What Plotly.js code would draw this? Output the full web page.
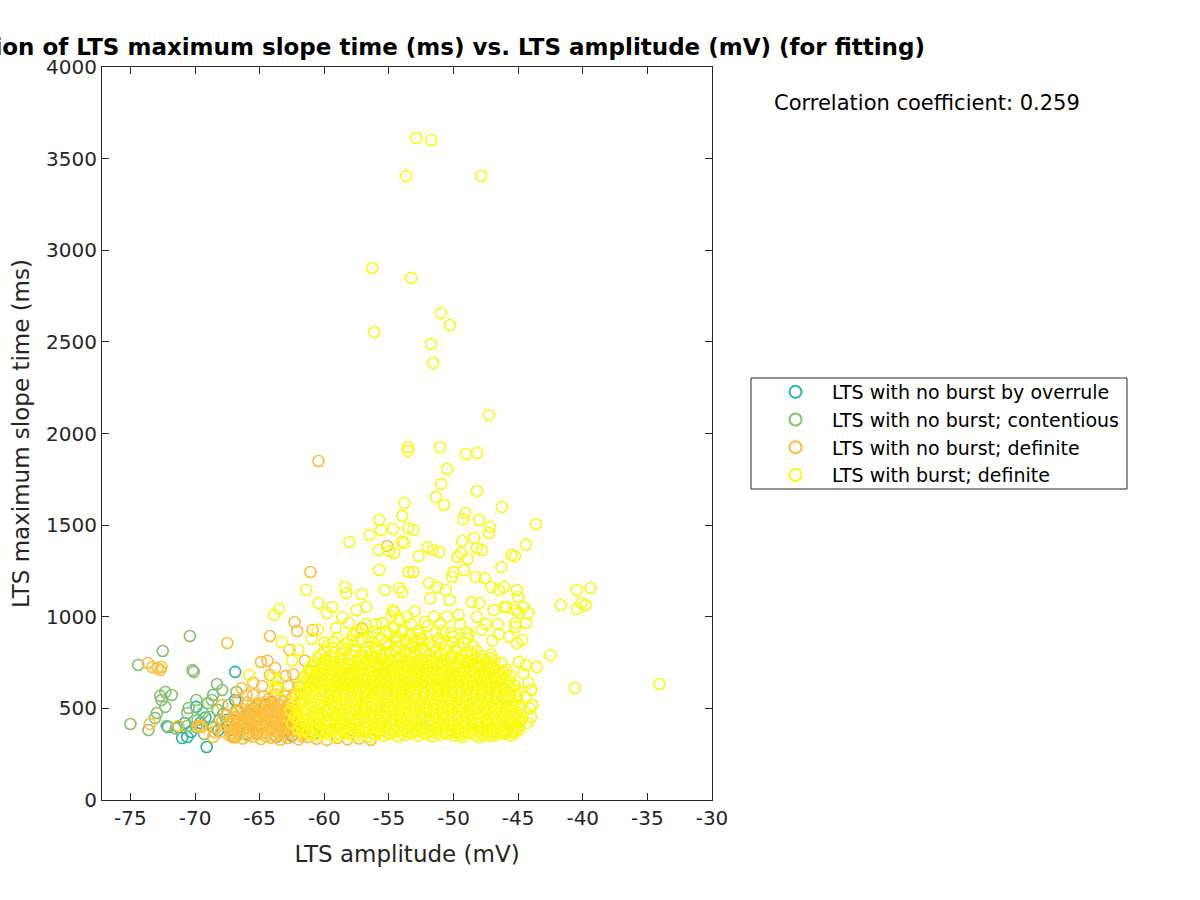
<!DOCTYPE html>
<html>
<head>
<meta charset="utf-8">
<script src="https://cdn.plot.ly/plotly-3.0.1.min.js"></script>
<style>html,body{margin:0;padding:0;background:#fff;}#chart{width:1200px;height:900px;}</style>
</head>
<body>
<div id="chart"></div>
<script>
// ---- Data: [LTS amplitude (mV), LTS maximum slope time (ms)] ----
const seriesNames = ["LTS with no burst by overrule", "LTS with no burst; contentious", "LTS with no burst; definite", "LTS with burst; definite"];
const seriesColors = ["rgb(38,181,160)", "rgb(135,193,109)", "rgb(254,190,58)", "rgb(249,250,16)"];
const xTicks = [-75, -70, -65, -60, -55, -50, -45, -40, -35, -30];
const yTicks = [0, 500, 1000, 1500, 2000, 2500, 3000, 3500, 4000];
const corrText = "Correlation coefficient: 0.259";

const overrulePts = [
[-66.9,699],[-71.0,338],[-70.6,344],[-70.3,371],[-69.1,289],[-72.1,398],[-71.3,398],[-69.6,420],[-69.9,508],
[-68.6,398],[-66.9,546],[-67.5,398],[-67.55,437],[-66.3,420],[-70.8,420],[-68.2,380],[-65.8,470],[-65.3,400],
[-64.6,520],[-64.0,430],[-63.2,380],[-62.5,350],[-66.0,360],[-67.8,470],[-69.2,450]
];

const contentiousPts = [
[-70.4,895],[-72.5,813],[-74.4,737],[-70.2,709],[-70.1,699],[-75.0,415],[-73.6,382],[-72.95,475],[-73.1,447],
[-72.6,546],[-72.3,589],[-72.7,568],[-71.8,573],[-72.3,508],[-72.2,404],[-70.6,404],[-70.5,502],[-70.6,475],
[-69.9,546],[-69.8,437],[-69.9,398],[-69.4,475],[-69.0,529],[-68.9,453],[-68.6,573],[-68.3,633],[-68.7,546],
[-68.25,491],[-68.1,437],[-66.8,589],[-66.8,491],[-67.1,382],[-66.55,420],[-66.9,344],[-65.8,437],[-65.2,366],
[-64.5,366],[-63.7,344],[-62.9,382],[-64.1,535],[-65.5,500],[-66.2,455],[-67.4,520],[-63.0,420],[-62.2,400],
[-61.5,380],[-64.8,410],[-66.0,395],[-69.3,360],[-71.5,390],[-60.8,360],[-59.5,380],[-67.9,600]
];

const noBurstPts = [
[-73.65,748],[-73.3,726],[-72.9,720],[-72.6,726],[-72.7,709],[-67.5,857],[-73.5,415],[-71.3,404],[-69.8,404],
[-69.5,398],[-68.5,371],[-68.6,344],[-67.9,518],[-67.1,344],[-64.9,753],[-64.2,895],[-66.0,573],[-62.3,971],
[-62.1,922],[-60.45,1850],[-61.07,1244],[-55.13,1386],[-60.9,928],[-57.1,938],[-64.4,760],[-61.5,760],[-62.7,820],
[-61.0,700],[-60.5,640],[-63.8,720],[-65.5,640],[-66.4,610],[-67.0,470],
[-67.0,342],[-66.3,336],[-65.5,345],[-64.9,333],[-64.1,340],[-63.4,329],[-62.8,338],[-62.0,331],[-61.3,343],
[-60.6,334],[-59.8,328],[-59.0,339],[-58.2,331],[-57.3,336],[-56.4,329],
[-68.0,372],[-67.2,366],[-66.6,376],[-65.8,369],[-65.1,378],[-64.5,364],[-63.7,373],[-63.1,367],[-62.4,377],
[-61.7,365],[-61.0,372],
[-69.6,402],[-68.4,396],[-67.6,405],[-66.9,398],[-66.2,407],[-65.6,395],[-64.8,404],[-64.2,397],[-63.5,406],
[-62.9,394],[-62.2,403],[-61.6,398],
[-67.9,432],[-67.3,426],[-66.5,435],[-65.9,428],[-65.3,437],[-64.6,425],[-64.0,433],[-63.3,427],[-62.6,436],
[-62.0,429],
[-67.6,462],[-66.8,456],[-66.1,466],[-65.4,459],[-64.8,468],[-64.1,455],[-63.5,463],[-62.8,457],[-62.2,466],
[-66.4,497],[-65.7,490],[-65.0,499],[-64.3,492],[-63.7,501],[-63.0,489],[-62.4,496],
[-66.0,532],[-65.2,526],[-64.6,535],[-63.9,528],[-63.2,537],[-62.6,525],
[-65.5,572],[-64.7,566],[-63.8,575],[-63.0,568],[-62.3,577],
[-64.8,622],[-63.6,615],[-62.8,625],[-62.0,618],
[-64.2,682],[-63.0,676],[-62.4,686],
[-67.3,352],[-66.6,356],[-65.9,350],[-65.2,358],[-64.5,348],[-63.8,355],[-63.1,350],[-62.4,357],[-61.7,349],
[-66.9,386],[-66.2,390],[-65.5,383],[-64.8,388],[-64.1,382],[-63.4,391],[-62.7,385],
[-67.3,417],[-66.6,421],[-65.9,414],[-65.2,419],[-64.5,413],[-63.8,420],[-63.1,415],[-62.4,421],
[-67.0,448],[-66.3,444],[-65.7,451],[-65.0,446],[-64.4,452],[-63.7,445],[-63.1,450],
[-66.8,480],[-66.0,476],[-65.3,483],[-64.6,478],[-64.0,484],[-63.3,477],[-62.7,482],
[-65.6,512],[-64.9,516],[-64.2,510],[-63.5,515],[-62.9,509],
[-66.7,545],[-64.3,552],[-63.4,548],[-62.5,555]
];

const burstCorePts = [
[-61.0,358],[-60.4,352],[-59.9,360],[-59.3,349],[-58.8,356],[-58.2,362],[-57.7,350],[-57.1,357],[-56.5,346],[-56.0,359],
[-55.4,352],[-54.9,361],[-54.3,348],[-53.8,355],[-53.2,363],[-52.7,350],[-52.1,358],[-51.6,347],[-51.0,356],[-50.5,362],
[-49.9,351],[-49.4,358],[-48.8,365],[-48.3,353],[-47.7,360],[-47.2,349],[-46.6,357],[-46.1,364],[-45.6,352],
[-62.0,388],[-61.5,380],[-60.9,392],[-60.3,384],[-59.6,378],[-59.0,390],[-58.5,383],[-57.9,391],[-57.4,377],[-56.8,386],
[-56.2,393],[-55.7,381],[-55.1,389],[-54.6,376],[-54.0,385],[-53.5,394],[-52.9,382],[-52.4,390],[-51.8,379],[-51.3,387],
[-50.7,395],[-50.2,381],[-49.6,389],[-49.1,377],[-48.5,386],[-48.0,393],[-47.4,380],[-46.9,388],[-46.3,376],[-45.8,385],[-45.2,392],
[-62.5,418],[-61.8,412],[-61.2,420],[-60.6,409],[-60.1,417],[-59.5,424],[-58.9,411],[-58.4,419],[-57.8,408],[-57.3,416],
[-56.7,423],[-56.1,410],[-55.6,418],[-55.0,426],[-54.5,413],[-53.9,421],[-53.3,408],[-52.8,416],[-52.2,424],[-51.7,411],
[-51.1,419],[-50.6,407],[-50.0,415],[-49.4,423],[-48.9,410],[-48.3,418],[-47.8,426],[-47.2,412],[-46.6,420],[-46.1,409],
[-45.5,417],[-44.9,424],
[-62.3,452],[-61.6,445],[-61.0,456],[-60.4,448],[-59.8,441],[-59.2,453],[-58.7,446],[-58.1,458],[-57.5,444],[-57.0,451],
[-56.4,459],[-55.8,447],[-55.3,455],[-54.7,442],[-54.1,450],[-53.6,458],[-53.0,445],[-52.5,453],[-51.9,440],[-51.3,449],
[-50.8,457],[-50.2,444],[-49.7,452],[-49.1,460],[-48.6,447],[-48.0,455],[-47.4,441],[-46.9,449],[-46.3,457],[-45.8,444],
[-45.2,452],[-44.7,446],
[-62.6,488],[-62.0,481],[-61.4,492],[-60.8,484],[-60.2,477],[-59.7,489],[-59.1,482],[-58.5,494],[-58.0,480],[-57.4,487],
[-56.8,495],[-56.3,483],[-55.7,490],[-55.2,478],[-54.6,486],[-54.0,494],[-53.5,481],[-52.9,489],[-52.3,476],[-51.8,485],
[-51.2,493],[-50.7,480],[-50.1,488],[-49.5,496],[-49.0,483],[-48.4,491],[-47.9,478],[-47.3,486],[-46.7,494],[-46.2,481],
[-45.6,489],[-45.1,477],
[-62.4,523],[-61.7,516],[-61.1,527],[-60.5,519],[-60.0,512],[-59.4,524],[-58.8,517],[-58.3,529],[-57.7,514],[-57.1,522],
[-56.6,530],[-56.0,518],[-55.4,525],[-54.9,513],[-54.3,521],[-53.7,529],[-53.2,516],[-52.6,524],[-52.1,511],[-51.5,520],
[-50.9,528],[-50.4,515],[-49.8,523],[-49.2,531],[-48.7,518],[-48.1,526],[-47.6,513],[-47.0,521],[-46.4,529],[-45.9,516],
[-45.3,524],[-44.8,518],
[-62.2,558],[-61.5,551],[-60.9,562],[-60.3,554],[-59.7,547],[-59.2,559],[-58.6,552],[-58.0,564],[-57.5,549],[-56.9,557],
[-56.3,565],[-55.8,553],[-55.2,560],[-54.7,548],[-54.1,556],[-53.5,564],[-53.0,551],[-52.4,559],[-51.8,546],[-51.3,555],
[-50.7,563],[-50.2,550],[-49.6,558],[-49.0,566],[-48.5,553],[-47.9,561],[-47.4,548],[-46.8,556],[-46.2,564],[-45.7,551],[-45.1,559],
[-62.0,595],[-61.4,588],[-60.8,599],[-60.2,591],[-59.6,584],[-59.1,596],[-58.5,589],[-57.9,601],[-57.4,586],[-56.8,594],
[-56.2,602],[-55.7,590],[-55.1,597],[-54.6,585],[-54.0,593],[-53.4,601],[-52.9,588],[-52.3,596],[-51.7,583],[-51.2,592],
[-50.6,600],[-50.1,587],[-49.5,595],[-48.9,603],[-48.4,590],[-47.8,598],[-47.3,585],[-46.7,593],[-46.1,601],[-45.6,588],[-45.0,596],
[-61.7,633],[-61.1,626],[-60.5,637],[-59.9,629],[-59.3,622],[-58.8,634],[-58.2,627],[-57.6,639],[-57.1,624],[-56.5,632],
[-55.9,640],[-55.4,628],[-54.8,635],[-54.3,623],[-53.7,631],[-53.1,639],[-52.6,626],[-52.0,634],[-51.4,621],[-50.9,630],
[-50.3,638],[-49.8,625],[-49.2,633],[-48.6,641],[-48.1,628],[-47.5,636],[-47.0,623],[-46.4,631],[-45.8,639],[-45.3,626],
[-61.5,673],[-60.9,666],[-60.3,677],[-59.7,669],[-59.1,662],[-58.6,674],[-58.0,667],[-57.4,679],[-56.9,664],[-56.3,672],
[-55.7,680],[-55.2,668],[-54.6,675],[-54.1,663],[-53.5,671],[-52.9,679],[-52.4,666],[-51.8,674],[-51.2,661],[-50.7,670],
[-50.1,678],[-49.6,665],[-49.0,673],[-48.4,681],[-47.9,668],[-47.3,676],[-46.8,663],[-46.2,671],[-45.6,679],
[-61.2,713],[-60.6,706],[-60.0,717],[-59.4,709],[-58.8,702],[-58.3,714],[-57.7,707],[-57.1,719],[-56.6,704],[-56.0,712],
[-55.4,720],[-54.9,708],[-54.3,715],[-53.8,703],[-53.2,711],[-52.6,719],[-52.1,706],[-51.5,714],[-50.9,701],[-50.4,710],
[-49.8,718],[-49.3,705],[-48.7,713],[-48.1,721],[-47.6,708],[-47.0,716],[-46.5,703],[-45.9,711],
[-60.8,753],[-60.1,746],[-59.5,757],[-58.9,749],[-58.2,742],[-57.6,754],[-57.0,747],[-56.4,759],[-55.8,744],[-55.2,752],
[-54.6,760],[-54.0,748],[-53.4,755],[-52.8,743],[-52.2,751],[-51.6,759],[-51.0,746],[-50.4,754],[-49.8,741],[-49.2,750],
[-48.6,758],[-48.0,745],[-47.4,753],[-46.8,761],[-46.3,748]
];

const burstFillPts = [
[-61.7,371],[-61.2,366],[-60.6,374],[-60.1,368],[-59.5,375],[-59.0,365],[-58.4,372],[-57.9,367],[-57.3,376],[-56.8,369],
[-56.2,364],[-55.7,373],[-55.1,367],[-54.6,375],[-54.0,366],[-53.5,371],[-52.9,377],[-52.4,368],[-51.8,373],[-51.3,365],
[-50.7,372],[-50.2,378],[-49.6,367],[-49.1,374],[-48.5,369],[-48.0,376],[-47.4,365],[-46.9,372],[-46.3,368],[-45.8,375],[-45.3,366],
[-62.0,437],[-61.4,432],[-60.8,440],[-60.3,434],[-59.7,429],[-59.1,438],[-58.6,431],[-58.0,440],[-57.4,433],[-56.9,428],
[-56.3,437],[-55.8,431],[-55.2,439],[-54.7,434],[-54.1,429],[-53.6,437],[-53.0,432],[-52.5,440],[-51.9,434],[-51.4,428],
[-50.8,436],[-50.3,431],[-49.7,439],[-49.2,433],[-48.6,428],[-48.1,437],[-47.5,432],[-47.0,440],[-46.4,434],[-45.9,429],
[-45.3,437],[-44.8,432],
[-62.1,505],[-61.5,500],[-60.9,508],[-60.4,502],[-59.8,497],[-59.2,506],[-58.7,499],[-58.1,508],[-57.6,501],[-57.0,496],
[-56.4,505],[-55.9,499],[-55.3,507],[-54.8,502],[-54.2,497],[-53.7,505],[-53.1,500],[-52.6,508],[-52.0,502],[-51.5,496],
[-50.9,504],[-50.4,499],[-49.8,507],[-49.3,501],[-48.7,496],[-48.2,505],[-47.6,500],[-47.1,508],[-46.5,502],[-46.0,497],
[-45.4,505],[-44.9,500],
[-61.9,575],[-61.3,570],[-60.7,578],[-60.1,572],[-59.6,567],[-59.0,576],[-58.5,569],[-57.9,578],[-57.3,571],[-56.8,566],
[-56.2,575],[-55.7,569],[-55.1,577],[-54.5,572],[-54.0,567],[-53.4,575],[-52.9,570],[-52.3,578],[-51.8,572],[-51.2,566],
[-50.6,574],[-50.1,569],[-49.5,577],[-49.0,571],[-48.4,566],[-47.9,575],[-47.3,570],[-46.8,578],[-46.2,572],[-45.7,567],[-45.1,575],
[-61.8,614],[-61.2,609],[-60.6,617],[-60.1,611],[-59.5,606],[-58.9,615],[-58.4,608],[-57.8,617],[-57.3,610],[-56.7,605],
[-56.1,614],[-55.6,608],[-55.0,616],[-54.5,611],[-53.9,606],[-53.3,614],[-52.8,609],[-52.2,617],[-51.7,611],[-51.1,605],
[-50.6,613],[-50.0,608],[-49.4,616],[-48.9,610],[-48.3,605],[-47.8,614],[-47.2,609],[-46.7,617],[-46.1,611],[-45.5,606],
[-61.4,652],[-60.8,647],[-60.2,655],[-59.7,649],[-59.1,644],[-58.5,653],[-58.0,646],[-57.4,655],[-56.9,648],[-56.3,643],
[-55.7,652],[-55.2,646],[-54.6,654],[-54.1,649],[-53.5,644],[-52.9,652],[-52.4,647],[-51.8,655],[-51.3,649],[-50.7,643],
[-50.2,651],[-49.6,646],[-49.0,654],[-48.5,648],[-47.9,643],[-47.4,652],[-46.8,647],[-46.3,655],[-45.7,649],
[-61.2,692],[-60.6,687],[-60.0,695],[-59.5,689],[-58.9,684],[-58.3,693],[-57.8,686],[-57.2,695],[-56.7,688],[-56.1,683],
[-55.5,692],[-55.0,686],[-54.4,694],[-53.9,689],[-53.3,684],[-52.7,692],[-52.2,687],[-51.6,695],[-51.1,689],[-50.5,683],
[-50.0,691],[-49.4,686],[-48.8,694],[-48.3,688],[-47.7,683],[-47.2,692],[-46.6,687],[-46.1,695],
[-60.9,732],[-60.3,727],[-59.7,735],[-59.2,729],[-58.6,724],[-58.0,733],[-57.5,726],[-56.9,735],[-56.4,728],[-55.8,723],
[-55.2,732],[-54.7,726],[-54.1,734],[-53.6,729],[-53.0,724],[-52.4,732],[-51.9,727],[-51.3,735],[-50.8,729],[-50.2,723],
[-49.7,731],[-49.1,726],[-48.5,734],[-48.0,728],[-47.4,723],[-46.9,732],
[-60.5,772],[-59.9,767],[-59.2,775],[-58.6,769],[-58.0,764],[-57.3,773],[-56.7,766],[-56.1,775],[-55.5,768],[-54.9,763],
[-54.3,772],[-53.7,766],[-53.1,774],[-52.5,769],[-51.9,764],[-51.3,772],[-50.7,767],[-50.1,775],[-49.5,769],[-48.9,763],
[-48.3,771],[-47.7,766],[-47.1,774],
[-60.0,814],[-59.2,809],[-58.4,817],[-57.6,811],[-56.8,806],[-56.0,815],[-55.3,808],[-54.5,817],[-53.8,810],[-53.0,805],
[-52.2,814],[-51.4,808],[-50.6,816],[-49.8,811],[-49.0,806],[-48.2,814],
[-59.3,862],[-58.2,857],[-57.1,865],[-56.2,859],[-55.3,854],[-54.4,863],[-53.6,856],[-52.8,865],[-51.9,858],[-51.0,853],
[-50.1,862],[-49.2,856],
[-57.5,912],[-56.2,918],[-55.0,905],[-54.0,915],[-52.6,908],[-51.4,917],[-50.2,910],[-48.8,905],[-56.8,958],[-55.5,965],
[-54.8,1000],[-52.2,972],[-51.0,962],[-49.6,1010],[-47.8,930],[-46.6,960]
];

const burstSparsePts = [
[-60.3,793],[-59.5,786],[-58.7,797],[-57.9,789],[-57.1,782],[-56.4,794],[-55.6,787],[-54.9,799],[-54.1,784],[-53.4,792],
[-52.6,800],[-51.8,788],[-51.0,795],[-50.2,783],[-49.4,791],[-48.6,799],[-47.8,786],[-47.1,794],
[-59.8,838],[-58.6,831],[-57.6,842],[-56.7,834],[-55.9,827],[-55.0,839],[-54.2,832],[-53.3,844],[-52.4,829],[-51.5,837],
[-50.6,845],[-49.6,833],[-48.5,840],
[-59.0,884],[-57.8,876],[-56.6,888],[-55.6,879],[-54.5,892],[-53.7,874],[-52.5,886],[-51.2,878],[-50.0,890],[-48.9,881],
[-53.9,930],[-53.3,960],[-53.6,1000],[-53.0,1030],[-54.2,980],[-52.8,920],[-54.6,940],[-53.4,900],[-55.2,920],
[-44.3,420],[-44.1,500],[-44.4,560],[-44.2,640],[-44.6,690],[-44.0,453],[-44.0,600],[-43.9,520],
[-45.0,382],[-45.5,371],[-45.0,398],[-46.0,366],[-47.0,355],[-48.0,344],[-49.3,344],[-49.8,366]
];

const burstOutlierPts = [
[-52.9,3612],[-51.74,3602],[-53.67,3405],[-47.88,3405],[-56.29,2903],[-53.28,2849],[-56.14,2554],[-50.96,2657],
[-50.27,2592],[-51.74,2488],[-51.58,2385],[-47.26,2101],[-53.52,1926],[-53.52,1905],[-51.04,1926],[-48.19,1894],
[-49.04,1888],[-50.5,1806],[-50.96,1724],[-51.35,1653],[-48.19,1686],[-46.26,1599],[-50.73,1610],[-53.8,1621],
[-49.1,1566],[-49.27,1533],[-48.03,1528],[-55.75,1528],[-43.63,1506],[-54.67,1479],[-53.97,1550],[-53.5,1484],
[-53.1,1473],[-56.52,1446],[-55.6,1473],[-58.06,1408],[-49.34,1413],[-47.18,1490],[-47.26,1457],[-48.42,1430],
[-47.8,1364],[-44.4,1392],[-49.42,1348],[-48.19,1375],[-45.25,1331],[-45.5,1337],[-49.7,1326],[-48.9,1315],
[-55.8,1364],[-55.0,1358],[-54.6,1348],[-53.97,1410],[-53.8,1402],[-53.5,1244],[-53.1,1244],[-55.75,1255],
[-52.0,1380],[-51.6,1364],[-51.1,1353],[-52.7,1331],[-46.3,1271],[-48.3,1217],[-47.6,1211],[-50.1,1217],
[-50.0,1244],[-49.2,1255],
[-61.4,1146],[-60.45,1075],[-58.4,1162],[-58.3,1130],[-57.1,1124],[-55.3,1146],[-54.2,1157],[-54.0,1135],
[-54.6,1026],[-59.4,1053],[-58.1,966],[-51.9,1184],[-51.3,1162],[-50.6,1146],[-48.6,1080],[-47.1,1162],
[-46.5,1146],[-46.1,1162],[-45.1,1146],[-45.0,1108],[-45.9,1053],[-45.2,1037],[-44.2,1020],[-44.6,1053],
[-44.4,966],[-45.2,966],[-45.1,857],[-44.95,753],[-44.4,737],[-43.55,726],[-42.5,791],[-44.0,600],
[-40.6,611],[-34.07,633],[-41.7,1064],[-40.47,1042],[-40.1,1075],[-39.78,1064],[-39.4,1157],[-40.47,1146],
[-63.5,1042],[-63.9,1010],[-59.8,1020],[-58.6,999],[-57.5,1037],[-56.75,1053],[-54.7,1037],[-59.1,938],
[-57.1,928],[-56.3,890],[-55.2,857],[-54.4,890],[-53.2,835],[-52.4,873],[-63.3,862],[-65.8,682],
[-64.0,671],[-63.6,655],[-63.8,611],[-63.5,606],[-45.2,944],[-45.7,890],[-44.95,1020],[-44.7,873],
[-46.9,1037],[-46.1,1053],[-48.0,1075],[-50.5,1000],[-49.5,960],[-51.5,1000],[-52.0,950],[-47.5,960],
[-50.8,920],[-48.2,1000],[-46.5,905],[-49.0,915],[-47.0,870],[-51.8,1100],[-50.3,1090],[-56.0,960],
[-57.8,900],[-60.5,930],[-61.0,880],[-62.0,820],[-62.5,760],[-60.0,860]
];

const burstPts = burstCorePts.concat(burstFillPts, burstSparsePts, burstOutlierPts);
const allSeries = [overrulePts, contentiousPts, noBurstPts, burstPts];

const FONT = "DejaVu Sans, Verdana, sans-serif";
const INK = "#262626";

const traces = allSeries.map((pts, i) => ({
  type: "scatter",
  mode: "markers",
  name: seriesNames[i],
  x: pts.map(p => p[0]),
  y: pts.map(p => p[1]),
  marker: {symbol: "circle-open", size: 11, color: seriesColors[i], line: {width: 1.6, color: seriesColors[i]}},
  hoverinfo: "x+y"
}));

const axisCommon = {
  showgrid: false, zeroline: false, showline: true, linecolor: INK, linewidth: 1,
  mirror: "ticks", ticks: "inside", ticklen: 7, tickcolor: INK, tickwidth: 1,
  tickfont: {family: FONT, size: 20, color: INK}
};

const legendTop = 373;
const layout = {
  width: 1200, height: 900,
  paper_bgcolor: "#ffffff", plot_bgcolor: "#ffffff",
  margin: {l: 102, r: 488, t: 67, b: 100},
  showlegend: true,
  title: {
    text: "Correlation of LTS maximum slope time (ms) vs. LTS amplitude (mV) (for fitting)",
    font: {family: FONT, size: 23, color: "#000000", weight: "bold"},
    x: 0.5, xref: "paper", xanchor: "center",
    y: 1 - 47/900, yref: "container", yanchor: "middle"
  },
  xaxis: Object.assign({}, axisCommon, {
    range: [-77.2, -30], tickvals: xTicks, ticktext: xTicks.map(String),
    title: {text: "LTS amplitude (mV)", font: {family: FONT, size: 23, color: INK}, standoff: 16}
  }),
  yaxis: Object.assign({}, axisCommon, {
    range: [0, 4000], tickvals: yTicks, ticktext: yTicks.map(String),
    title: {text: "LTS maximum slope time (ms)", font: {family: FONT, size: 23, color: INK}, standoff: 10}
  }),
  legend: {
    x: (751 - 102) / 610, xref: "paper", xanchor: "left",
    y: (800 - legendTop) / 733, yref: "paper", yanchor: "top",
    bgcolor: "rgba(0,0,0,0)", borderwidth: 0,
    font: {family: FONT, size: 19, color: "#000000"},
    itemsizing: "constant", tracegroupgap: 0, indentation: 8, itemwidth: 63
  },
  shapes: [{
    type: "rect", xref: "paper", yref: "paper", layer: "above",
    x0: (751 - 102) / 610, x1: (1127 - 102) / 610,
    y0: (800 - 489) / 733, y1: (800 - 378) / 733,
    line: {color: INK, width: 1}, fillcolor: "rgba(0,0,0,0)"
  }],
  annotations: [{
    text: corrText, xref: "paper", yref: "paper",
    x: (772 - 102) / 610, y: (800 - 103) / 733, xanchor: "left", yanchor: "middle",
    showarrow: false, font: {family: FONT, size: 21, color: "#000000"}
  }]
};

Plotly.newPlot("chart", traces, layout, {staticPlot: true, displayModeBar: false});
</script>
</body>
</html>
